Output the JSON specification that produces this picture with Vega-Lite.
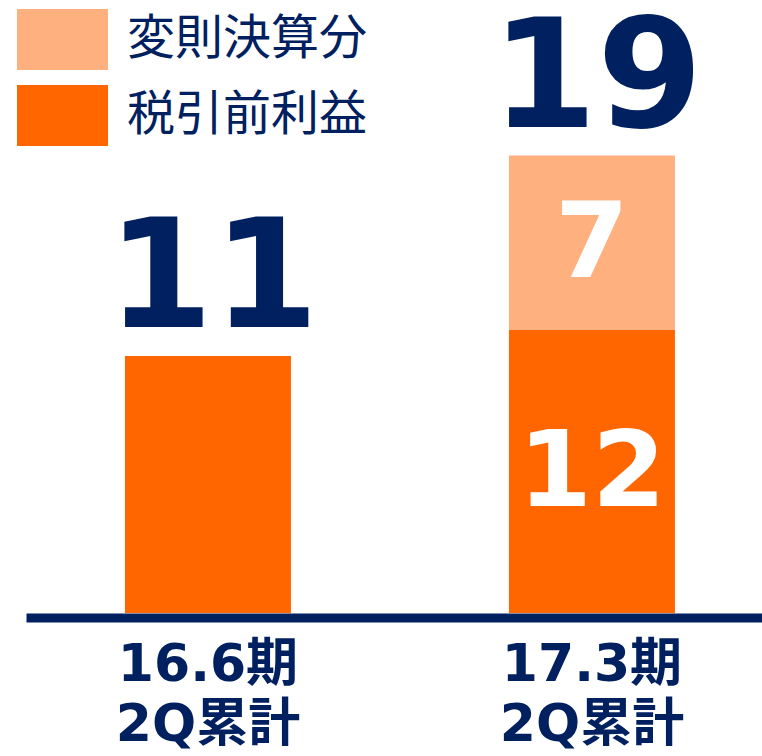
{
  "$schema": "https://vega.github.io/schema/vega-lite/v6.json",
  "autosize": "none",
  "width": 736,
  "height": 613,
  "padding": {"left": 26, "top": 0, "right": 0, "bottom": 143},
  "background": "white",
  "config": {"view": {"stroke": null}},
  "data": {
    "values": [
      {"period": "16.6期 2Q累計", "item": "税引前利益", "value": 10.9, "order": 1},
      {"period": "17.3期 2Q累計", "item": "税引前利益", "value": 12.0, "order": 1},
      {"period": "17.3期 2Q累計", "item": "変則決算分", "value": 7.4, "order": 2}
    ]
  },
  "encoding": {
    "x": {
      "field": "period",
      "type": "nominal",
      "scale": {"paddingInner": 0.5677, "paddingOuter": 0.2422, "align": 0.532},
      "axis": {
        "title": null,
        "labelAngle": 0,
        "ticks": false,
        "domainColor": "#002060",
        "domainWidth": 9,
        "offset": 4.5,
        "labelFont": "DejaVu Sans, Noto Sans CJK JP",
        "labelFontWeight": "bold",
        "labelFontSize": 52,
        "labelColor": "#002060",
        "labelLineHeight": 60,
        "labelPadding": 22,
        "labelLimit": 400,
        "labelExpr": "split(datum.label, ' ')"
      }
    }
  },
  "layer": [
    {
      "mark": {"type": "bar"},
      "encoding": {
        "y": {"field": "value", "type": "quantitative", "stack": "zero", "scale": {"domain": [0, 25.9]}, "axis": null},
        "color": {
          "field": "item",
          "type": "nominal",
          "scale": {"domain": ["変則決算分", "税引前利益"], "range": ["#FFB07F", "#FF6600"]},
          "legend": {
            "orient": "none",
            "legendX": -9,
            "legendY": -6,
            "title": null,
            "symbolType": "M-1,-0.67L1,-0.67L1,0.67L-1,0.67Z",
            "symbolSize": 8281,
            "symbolStrokeWidth": 0,
            "labelFontSize": 48,
            "labelFont": "Noto Sans CJK JP",
            "labelColor": "#002060",
            "labelOffset": 19,
            "rowPadding": -14,
            "padding": 0,
            "labelLimit": 400
          }
        },
        "order": {"field": "order"}
      }
    },
    {
      "transform": [
        {"filter": "datum.period == '17.3期 2Q累計'"},
        {"stack": "value", "groupby": ["period"], "sort": [{"field": "order"}], "as": ["v0", "v1"]},
        {"calculate": "(datum.v0 + datum.v1) / 2", "as": "mid"}
      ],
      "mark": {"type": "text", "font": "DejaVu Sans", "fontWeight": "bold", "fontSize": 106, "color": "white", "baseline": "middle", "dy": 2},
      "encoding": {
        "y": {"field": "mid", "type": "quantitative"},
        "text": {"field": "value", "type": "quantitative", "format": ".0f"}
      }
    },
    {
      "transform": [{"aggregate": [{"op": "sum", "field": "value", "as": "total"}], "groupby": ["period"]}],
      "mark": {"type": "text", "font": "DejaVu Sans", "fontWeight": "bold", "fontSize": 152, "color": "#002060", "baseline": "alphabetic", "dy": -29, "dx": 5},
      "encoding": {
        "y": {"field": "total", "type": "quantitative"},
        "text": {"field": "total", "type": "quantitative", "format": ".0f"}
      }
    }
  ]
}
